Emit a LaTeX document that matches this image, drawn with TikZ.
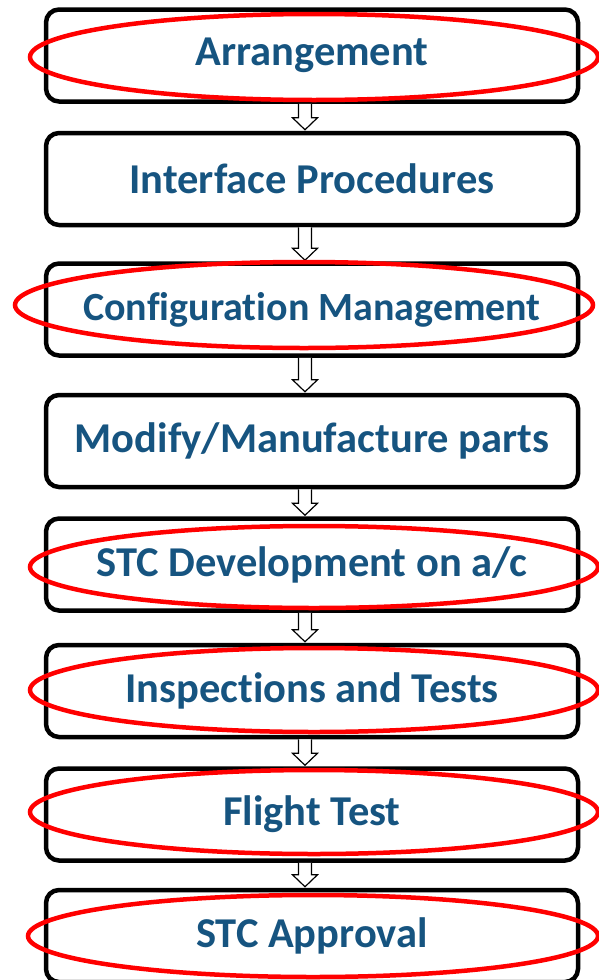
\documentclass[tikz,border=0pt]{standalone}
\usepackage{fontspec}
\setmainfont{Carlito}[Ligatures=NoCommon]
\definecolor{steptext}{RGB}{22, 84, 128}
\definecolor{ringred}{RGB}{255, 0, 0}

\tikzset{
  stepbox/.style={draw=black, line width=4.5pt, rounded corners=13pt, minimum width=532pt, minimum height=92pt, inner sep=0pt, text=steptext, font=\bfseries\fontsize{42.5}{48}\selectfont},
  ring/.style={draw=ringred, line width=4.5pt},
  flow/.style={draw=black, line width=1.2pt, fill=white, line join=miter}
}
\newcommand{\flowarrow}[2]{%
  \draw[flow] ([xshift=-13.5pt]#1.south) -- ([xshift=-13.5pt,yshift=13pt]#2.north) -- ([xshift=-19.5pt,yshift=13pt]#2.north) -- ([xshift=-7pt,yshift=1pt]#2.north) -- ([xshift=5.5pt,yshift=13pt]#2.north) -- ([xshift=-0.5pt,yshift=13pt]#2.north) -- ([xshift=-0.5pt]#1.south);}

\begin{document}
\begin{tikzpicture}[x=1pt, y=1pt]
			\useasboundingbox (0, 0) rectangle (598, -980);
			\node [stepbox] (arrange) at (312, -55.5) {Arrangement};
			\node [stepbox] (iface) at (312, -179) {Interface Procedures};
			\node [stepbox, font=\bfseries\fontsize{40}{46}\selectfont] (config) at (312, -309.5) {Configuration Management};
			\node [stepbox] (parts) at (312, -441) {Modify/Manufacture parts};
			\node [stepbox] (develop) at (312, -564.5) {STC Development on a/c};
			\node [stepbox] (inspect) at (312, -691) {Inspections and Tests};
			\node [stepbox] (flight) at (312, -814.5) {Flight Test};
			\node [stepbox] (approve) at (312, -936) {STC Approval};
			\flowarrow{arrange}{iface}
			\flowarrow{iface}{config}
			\flowarrow{config}{parts}
			\flowarrow{parts}{develop}
			\flowarrow{develop}{inspect}
			\flowarrow{inspect}{flight}
			\flowarrow{flight}{approve}
			% red rings
			\draw [ring] (314, -57) ellipse [x radius=284, y radius=43];
			\draw [ring] (304, -305) ellipse [x radius=289, y radius=43];
			\draw [ring] (314, -567) ellipse [x radius=284, y radius=41];
			\draw [ring] (314, -690) ellipse [x radius=284, y radius=42];
			\draw [ring] (314, -812) ellipse [x radius=284, y radius=42];
			\draw [ring] (313, -936) ellipse [x radius=285, y radius=41];
		\end{tikzpicture}
\end{document}
